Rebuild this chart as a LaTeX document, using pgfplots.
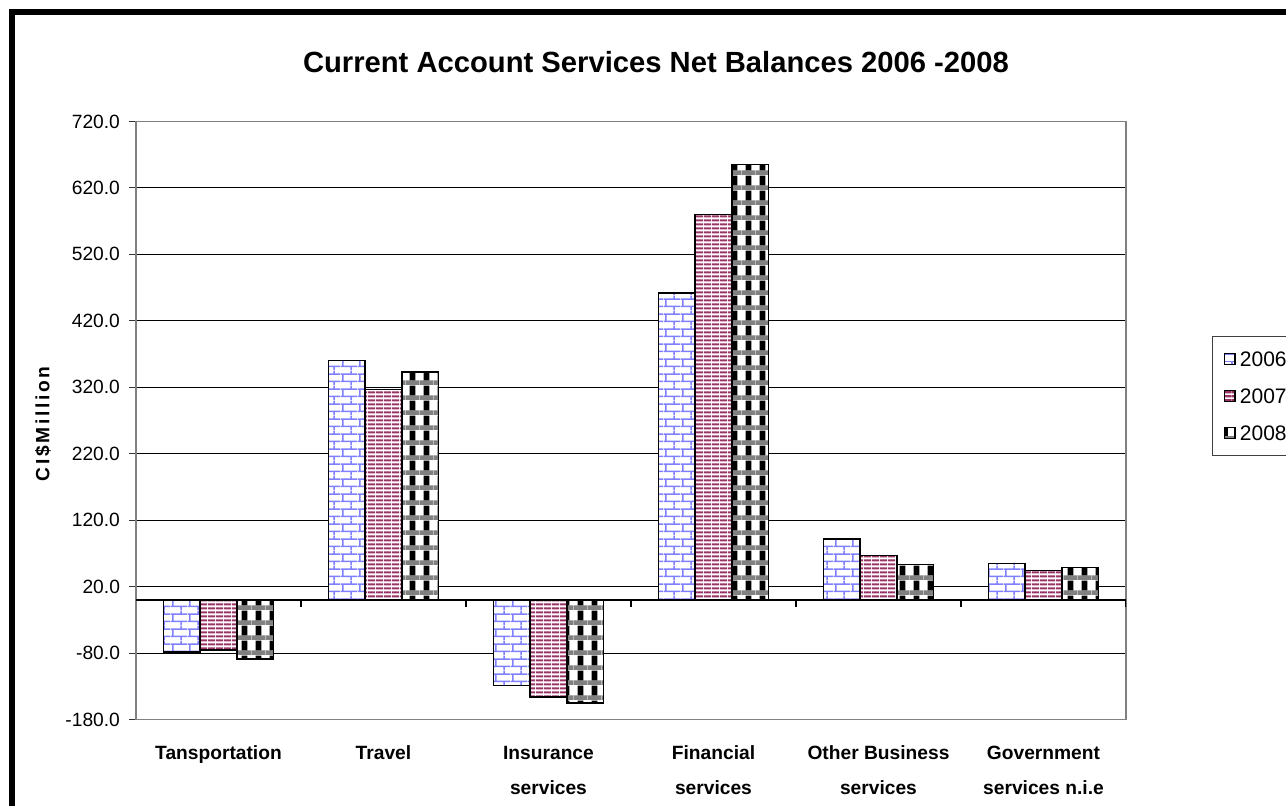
\documentclass[border=0pt]{standalone}
\usepackage{pgfplots}
\pgfplotsset{compat=1.18}
\usepackage{fontspec}
\setmainfont{Liberation Sans}
\newfontfamily\lsfont[LetterSpace=14]{Liberation Sans}
\usetikzlibrary{patterns}
\definecolor{cA}{HTML}{8080FF}
\definecolor{cB}{HTML}{993366}
\pgfdeclarepatternformonly{xbricks}{\pgfpointorigin}{\pgfpoint{8.6pt}{7.6pt}}{\pgfpoint{8.6pt}{7.6pt}}{
  \pgfsetlinewidth{0.8pt}
  \pgfpathmoveto{\pgfpoint{0pt}{1.9pt}}\pgfpathlineto{\pgfpoint{8.6pt}{1.9pt}}
  \pgfpathmoveto{\pgfpoint{0pt}{5.7pt}}\pgfpathlineto{\pgfpoint{8.6pt}{5.7pt}}
  \pgfpathmoveto{\pgfpoint{1pt}{1.9pt}}\pgfpathlineto{\pgfpoint{1pt}{5.7pt}}
  \pgfpathmoveto{\pgfpoint{5.3pt}{5.7pt}}\pgfpathlineto{\pgfpoint{5.3pt}{7.6pt}}
  \pgfpathmoveto{\pgfpoint{5.3pt}{0pt}}\pgfpathlineto{\pgfpoint{5.3pt}{1.9pt}}
  \pgfusepath{stroke}}
\pgfdeclarepatternformonly{xhlines}{\pgfpointorigin}{\pgfpoint{4pt}{2pt}}{\pgfpoint{4pt}{2pt}}{
  \pgfpathrectangle{\pgfpoint{0pt}{0.4pt}}{\pgfpoint{4pt}{1.2pt}}
  \pgfusepath{fill}}
\pgfdeclarepatterninherentlycolored{xweave}{\pgfpointorigin}{\pgfpoint{7pt}{7.6pt}}{\pgfpoint{7pt}{7.6pt}}{
  \pgfsetfillcolor{white}
  \pgfpathrectangle{\pgfpointorigin}{\pgfpoint{7pt}{7.6pt}}\pgfusepath{fill}
  \pgfsetfillcolor{gray}
  \pgfpathrectangle{\pgfpointorigin}{\pgfpoint{7pt}{2.4pt}}\pgfusepath{fill}
  \pgfsetfillcolor{black}
  \pgfpathrectangle{\pgfpoint{2pt}{2.4pt}}{\pgfpoint{3pt}{5.2pt}}\pgfusepath{fill}
}
\pgfplotsset{
  sqlegend/.style={legend image code/.code={\draw[##1] (0pt,-2.7pt) rectangle (5.4pt,2.7pt);}},
}
\pgfplotstableread{
x  a     b     c
0  -78   -75   -89
1  360   317   343
2  -129  -146  -155
3  462   580   655
4  92    67    53
5  55    44    49
}\datatable
\begin{document}
\begin{tikzpicture}
\useasboundingbox (0,0) rectangle (643pt,403pt);
\draw[line width=2.85pt] (6.1pt,-50pt) rectangle (700pt,396.9pt);
\node[font=\bfseries\fontsize{14.6}{17}\selectfont, anchor=base] at (328pt,366.5pt) {Current Account Services Net Balances 2006 -2008};
\begin{axis}[
  at={(68pt,43.2pt)}, anchor=south west, scale only axis,
  width=495pt, height=299.1pt,
  xmin=-0.5, xmax=5.5, ymin=-180, ymax=720,
  ytick={-180,-80,...,720},
  xtick={0,...,5},
  xticklabels={Tansportation, Travel, Insurance\\services, Financial\\services, Other Business\\services, Government\\services n.i.e},
  major x tick style={draw=none},
  ytick pos=left, tick align=outside, major tick length=3.5pt,
  y tick style={black!80, line width=0.6pt},
  ymajorgrids, grid style={black, line width=0.55pt},
  axis line style={gray, line width=0.75pt},
  /pgf/number format/.cd, fixed, fixed zerofill, precision=1, assume math mode=true, 1000 sep={},
  /pgfplots/.cd,
  yticklabel style={font=\fontsize{9.6}{11}\selectfont, xshift=-1pt},
  xticklabel style={font=\bfseries\fontsize{9.6}{17.5}\selectfont, align=center, anchor=north, inner sep=0pt, yshift=-9.5pt},
  ylabel={\lsfont\bfseries CI\$Million},
  every axis y label/.style={at={(axis description cs:-0.094,0.494)}, rotate=90, anchor=center, font=\fontsize{9.6}{11}\selectfont},
  ybar=0pt, bar width=0.2222,
  legend style={at={(axis description cs:1.0869,0.6413)}, anchor=north west, draw=black!75, line width=0.6pt,
    font=\fontsize{10.5}{12}\selectfont, row sep=7pt, inner sep=5.5pt,
    nodes={inner sep=2pt, text height=7.5pt, text depth=0pt}},
  legend cell align=left,
]
\draw[black, line width=0.75pt] (axis cs:-0.5,0) -- (axis cs:5.5,0);
\pgfplotsinvokeforeach{0.5,1.5,2.5,3.5,4.5,5.5}{\draw[black, line width=0.6pt] (axis cs:#1,0) -- ([yshift=-3.5pt]axis cs:#1,0);}
\addplot[draw=black, line width=0.75pt, preaction={fill=white}, pattern=xbricks, pattern color=cA, sqlegend] table[x=x,y=a] {\datatable};
\addplot[draw=black, line width=0.75pt, preaction={fill=white}, pattern=xhlines, pattern color=cB, sqlegend] table[x=x,y=b] {\datatable};
\addplot[draw=black, line width=0.75pt, preaction={fill=white}, pattern=xweave, sqlegend] table[x=x,y=c] {\datatable};
\legend{2006,2007,2008}
\end{axis}
\end{tikzpicture}
\end{document}
